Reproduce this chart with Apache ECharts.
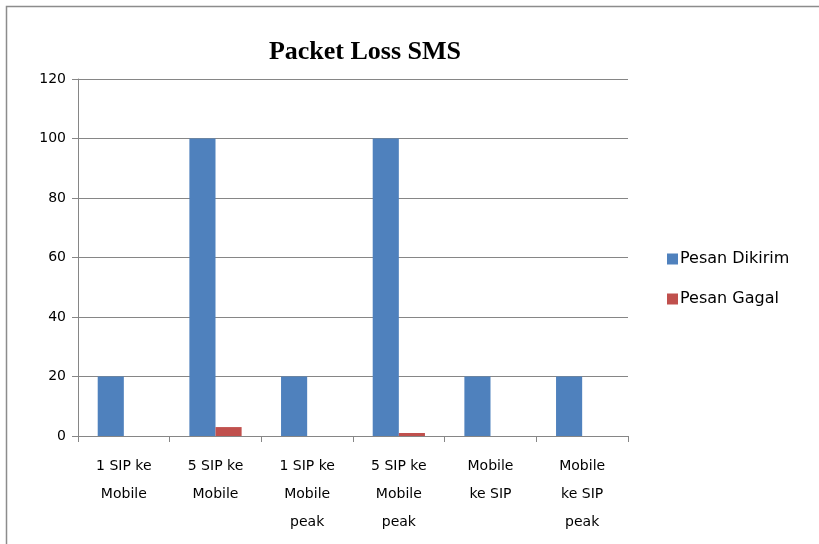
<!DOCTYPE html>
<html><head><meta charset="utf-8">
<script src="https://cdn.jsdelivr.net/npm/echarts@6/dist/echarts.min.js"></script>
<style>html,body{margin:0;padding:0;background:#fff}#c{width:819px;height:544px}</style>
</head><body><div id="c"></div>
<script>
const categories = ['1 SIP ke\nMobile', '5 SIP ke\nMobile', '1 SIP ke\nMobile\npeak', '5 SIP ke\nMobile\npeak', 'Mobile\nke SIP', 'Mobile\nke SIP\npeak'];
const pesanDikirim = [20, 100, 20, 100, 20, 20];
const pesanGagal = [0, 3, 0, 1, 0, 0];
const yTicks = {min: 0, max: 120, interval: 20};

const chart = echarts.init(document.getElementById('c'), null, {renderer: 'canvas'});
chart.setOption({
  animation: false,
  backgroundColor: '#fff',
  graphic: [{type: 'rect', shape: {x: 6.5, y: 6.5, width: 820, height: 560}, style: {fill: 'none', stroke: '#8c8c8c', lineWidth: 1.5}}],
  title: {text: 'Packet Loss SMS', left: 360, top: 34, textAlign: 'center',
    textStyle: {fontFamily: 'Liberation Serif', fontWeight: 'bold', fontSize: 26, color: '#000'}},
  legend: {orient: 'vertical', left: 662, top: 245, itemGap: 22, itemWidth: 11, itemHeight: 11,
    icon: 'rect', textStyle: {fontFamily: 'DejaVu Sans', fontSize: 16, lineHeight: 18, color: '#000', padding: [0, 0, 0, -3]}},
  grid: {left: 78, right: 191, top: 79, bottom: 108, containLabel: false},
  xAxis: {type: 'category', data: categories,
    axisLine: {lineStyle: {color: '#868686', width: 1}},
    axisTick: {show: true, length: 6, lineStyle: {color: '#868686'}},
    axisLabel: {fontFamily: 'DejaVu Sans', fontSize: 14, color: '#000', lineHeight: 28, margin: 16, interval: 0}},
  yAxis: {type: 'value', min: yTicks.min, max: yTicks.max, interval: yTicks.interval,
    axisLine: {show: true, lineStyle: {color: '#868686'}},
    axisTick: {show: true, length: 6, inside: false, lineStyle: {color: '#868686'}},
    splitLine: {lineStyle: {color: '#868686', width: 1}},
    axisLabel: {fontFamily: 'DejaVu Sans', fontSize: 14, color: '#000', margin: 12}},
  series: [
    {name: 'Pesan Dikirim', type: 'bar', data: pesanDikirim, itemStyle: {color: '#4F81BD'}, barGap: '0%', barCategoryGap: '43%'},
    {name: 'Pesan Gagal', type: 'bar', data: pesanGagal, itemStyle: {color: '#C0504D'}}
  ]
});
</script></body></html>
